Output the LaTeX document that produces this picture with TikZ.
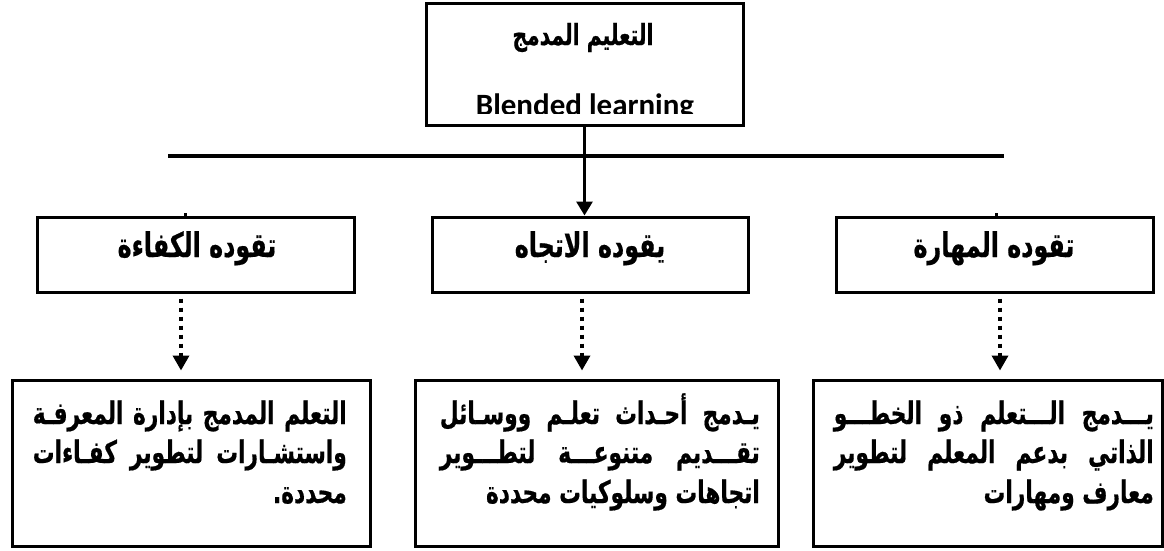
\documentclass[tikz,border=0pt]{standalone}
\usepackage{fontspec}
\newfontfamily\arabicfont[Script=Arabic, FakeStretch=0.7, BoldFeatures={FakeBold=0.5}]{DejaVu Sans}
\newfontfamily\latinfont{Carlito}
\TeXXeTstate=1
\usetikzlibrary{arrows.meta}
\newcommand{\jline}[2]{\hbox to #1{\spaceskip=0.25em plus 1fil #2}}
\tikzset{
  frame/.style={draw, line width=3pt, inner sep=0pt},
  artext/.style={font=\arabicfont\bfseries\fontsize{31}{31}\selectfont, inner sep=0pt},
  headtext/.style={font=\arabicfont\bfseries\fontsize{34}{34}\selectfont, inner sep=0pt},
  solidarrow/.style={line width=3pt, -{Triangle[width=16pt,length=14pt]}},
  dotarrow/.style={line width=3.5pt, dash pattern=on 4pt off 5pt, -{Triangle[width=16pt,length=15pt]}, shorten <=5pt, shorten >=8pt},
}
\begin{document}
\begin{tikzpicture}[x=1pt,y=-1pt]
\useasboundingbox (0,0) rectangle (1164,550);
% top box
\node[frame, minimum width=317pt, minimum height=122pt] (top) at (584.5,64) {};
\node[anchor=base, inner sep=0pt, font=\arabicfont\bfseries\fontsize{29}{29}\selectfont] (topar) at (583,45) {\beginR التعليم المدمج\endR};
\begin{scope}
  \clip (428,0) rectangle (741,113.5);
  \node[anchor=base, inner sep=0pt, font=\latinfont\bfseries\fontsize{31}{31}\selectfont] (topen) at (585,115.5) {Blended learning};
\end{scope}
% horizontal line
\coordinate (hl) at (168,156);
\coordinate (hr) at (1004,156);
\draw[line width=4pt] (hl) -- (hr);
% middle boxes
\node[frame, minimum width=317pt, minimum height=75pt] (m1) at (195.5,254.5) {};
\node[frame, minimum width=316pt, minimum height=75pt] (m2) at (590,254.5) {};
\node[frame, minimum width=317pt, minimum height=75pt] (m3) at (994.5,254.5) {};
\node[headtext, anchor=base] (m1t) at (197,257) {\beginR تقوده الكفاءة\endR};
\node[headtext, anchor=base] (m2t) at (590,257) {\beginR يقوده الاتجاه\endR};
\node[headtext, anchor=base] (m3t) at (994,257) {\beginR تقوده المهارة\endR};
\draw[solidarrow] (top.south) -- (top.south |- m2.north);
% small ticks
\coordinate (k1) at (185,213);
\coordinate (k3) at (996,213);
\draw[line width=3pt] (k1) -- (k1 |- m1.north);
\draw[line width=3pt] (k3) -- (k3 |- m3.north);
% bottom boxes
\node[frame, minimum width=358pt, minimum height=166pt] (b1) at (191,463) {};
\node[frame, minimum width=363pt, minimum height=166pt] (b2) at (596.5,463) {};
\node[frame, minimum width=349pt, minimum height=166pt] (b3) at (987.5,463) {};
% dotted arrows
\coordinate (d1) at (181,0);
\coordinate (d2) at (582,0);
\coordinate (d3) at (1000,0);
\draw[dotarrow] (m1.south -| d1) -- (b1.north -| d1);
\draw[dotarrow] (m2.south -| d2) -- (b2.north -| d2);
\draw[dotarrow] (m3.south -| d3) -- (b3.north -| d3);
% bottom texts
\node[artext, anchor=base east] (b1l1) at (347,424) {\jline{314pt}{\beginR التعلم المدمج بإدارة المعرفـة\endR}};
\node[artext, anchor=base east] (b1l2) at (347,463) {\jline{314pt}{\beginR واستشـارات لتطوير كفـاءات\endR}};
\node[artext, anchor=base east] (b1l3) at (347,503) {\beginR محددة.\endR};
\node[artext, anchor=base east] (b2l1) at (760,424) {\jline{320pt}{\beginR يـدمج أحـداث تعلـم ووسـائل\endR}};
\node[artext, anchor=base east] (b2l2) at (760,463) {\jline{320pt}{\beginR تقـــديم متنوعـــة لتطـــوير\endR}};
\node[artext, anchor=base east] (b2l3) at (760,503) {\beginR اتجاهات وسلوكيات محددة\endR};
\node[artext, anchor=base east] (b3l1) at (1154,424) {\jline{320pt}{\beginR يـــدمج الـــتعلم ذو الخطـــو\endR}};
\node[artext, anchor=base east] (b3l2) at (1154,463) {\jline{320pt}{\beginR الذاتي بدعم المعلم لتطوير\endR}};
\node[artext, anchor=base east] (b3l3) at (1154,503) {\beginR معارف ومهارات\endR};
\end{tikzpicture}
\end{document}
